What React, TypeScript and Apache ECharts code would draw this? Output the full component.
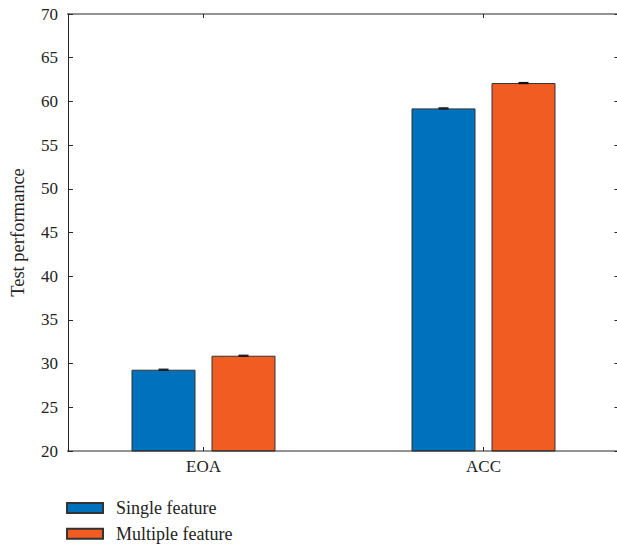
import React, { useEffect, useRef } from "react";
import * as echarts from "echarts";

const categories = ["EOA", "ACC"];
const singleFeature = [29.3, 59.2];
const multipleFeature = [30.9, 62.1];
const singleErr = [0.06, 0.06];
const multipleErr = [0.06, 0.06];
const seriesNames = ["Single feature", "Multiple feature"];
const yMin = 20;
const yMax = 70;
const yStep = 5;

const FONT = "Liberation Serif";
const FS = 17;
const BLUE = "#0072BD";
const ORANGE = "#F15C22";
const AXIS = "#262626";

export default function App() {
  const ref = useRef<HTMLDivElement>(null);
  useEffect(() => {
    document.body.style.margin = "0";
    document.body.style.overflow = "hidden";
    document.documentElement.style.overflow = "hidden";
    if (!ref.current) return;
    const chart = echarts.init(ref.current, null, { renderer: "svg" });
    const errSeries = (vals: number[], errs: number[], offset: number, name: string) => ({
      type: "custom",
      name: name + " err",
      z: 5,
      data: vals.map((v, i) => [i, v, errs[i]]),
      renderItem: (params: any, api: any) => {
        const i = api.value(0);
        const v = api.value(1);
        const e = api.value(2);
        const top = api.coord([i, v + e]);
        const bot = api.coord([i, v - e]);
        const x = top[0] + offset;
        const hw = 5;
        const st = { stroke: "#111", lineWidth: 1.2 };
        return {
          type: "group",
          children: [
            { type: "line", shape: { x1: x, y1: top[1], x2: x, y2: bot[1] }, style: st },
            { type: "line", shape: { x1: x - hw, y1: top[1], x2: x + hw, y2: top[1] }, style: st },
            { type: "line", shape: { x1: x - hw, y1: bot[1], x2: x + hw, y2: bot[1] }, style: st },
          ],
        };
      },
    });
    const option: any = {
      animation: false,
      backgroundColor: "#ffffff",
      textStyle: { fontFamily: FONT },
      grid: { left: 62.5, width: 561, top: 14, height: 437, containLabel: false },
      legend: {
        left: 66,
        top: 499,
        padding: 0,
        orient: "vertical",
        itemWidth: 36,
        itemHeight: 10,
        itemGap: 7.7,
        icon: "rect",
        data: seriesNames,
        textStyle: { fontFamily: FONT, fontSize: 18, lineHeight: 18, color: "#222", padding: [0, 0, 0, 8] },
      },
      xAxis: [
        {
          type: "category",
          data: categories,
          position: "bottom",
          axisLine: { show: false },
          axisTick: { show: true, inside: true, alignWithLabel: true, length: 4, lineStyle: { color: AXIS } },
          axisLabel: { fontFamily: FONT, fontSize: FS, color: "#222", margin: 7 },
          splitLine: { show: false },
        },
        {
          type: "category",
          data: categories,
          position: "top",
          axisLine: { show: false },
          axisTick: { show: true, inside: true, alignWithLabel: true, length: 4, lineStyle: { color: AXIS } },
          axisLabel: { show: false },
          splitLine: { show: false },
        },
      ],
      yAxis: [
        {
          type: "value",
          min: yMin,
          max: yMax,
          interval: yStep,
          position: "left",
          offset: -4.5,
          name: "Test performance",
          nameLocation: "middle",
          nameGap: 41,
          nameTextStyle: { fontFamily: FONT, fontSize: 18.5, color: "#222" },
          axisLine: { show: true, lineStyle: { color: AXIS, width: 1 } },
          axisTick: { show: true, inside: true, length: 5, lineStyle: { color: AXIS } },
          axisLabel: { fontFamily: FONT, fontSize: FS, color: "#222", margin: 10 },
          splitLine: { show: false },
        },
        {
          type: "value",
          min: yMin,
          max: yMax,
          interval: yStep,
          position: "right",
          offset: -4,
          axisLine: { show: true, lineStyle: { color: AXIS, width: 1 } },
          axisTick: { show: true, inside: true, length: 5, lineStyle: { color: AXIS } },
          axisLabel: { show: false },
          splitLine: { show: false },
        },
      ],
      series: [
        {
          type: "bar",
          name: seriesNames[0],
          data: singleFeature,
          barWidth: 64,
          barGap: "25%",
          itemStyle: { color: BLUE, borderColor: "#333", borderWidth: 1 },
        },
        {
          type: "bar",
          name: seriesNames[1],
          data: multipleFeature,
          barWidth: 64,
          barGap: "25%",
          itemStyle: { color: ORANGE, borderColor: "#333", borderWidth: 1 },
        },
        errSeries(singleFeature, singleErr, -40, seriesNames[0]),
        errSeries(multipleFeature, multipleErr, 40, seriesNames[1]),
      ],
      graphic: [
        { type: "line", shape: { x1: 67, y1: 14, x2: 620, y2: 14 }, style: { stroke: AXIS, lineWidth: 1 }, z: 10 },
        { type: "line", shape: { x1: 67, y1: 451, x2: 620, y2: 451 }, style: { stroke: AXIS, lineWidth: 1 }, z: 10 },
      ],
    };
    chart.setOption(option);
    return () => chart.dispose();
  }, []);
  return <div ref={ref} style={{ width: 630, height: 546 }} />;
}
